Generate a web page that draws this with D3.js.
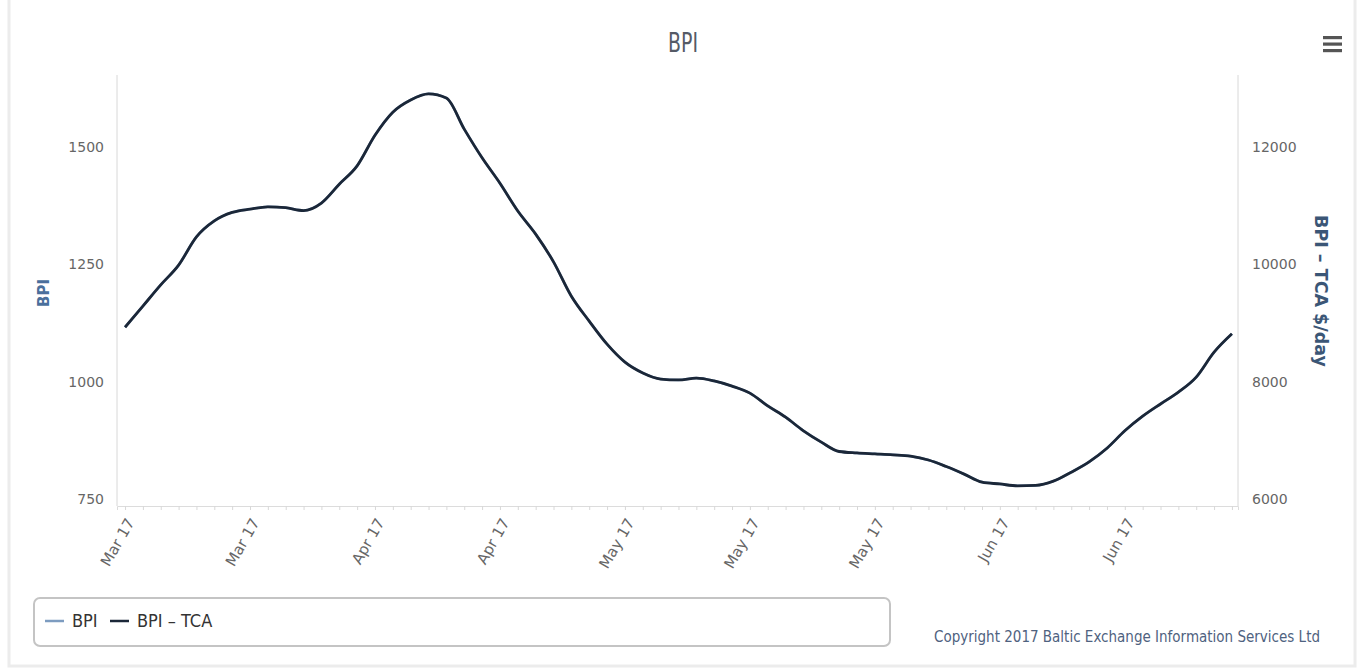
<!DOCTYPE html>
<html>
<head>
<meta charset="utf-8">
<script src="https://cdn.jsdelivr.net/npm/d3@7/dist/d3.min.js"></script>
<style>
  html, body { margin: 0; padding: 0; background: #fff; }
  svg { display: block; font-family: "DejaVu Sans", sans-serif; }
  .cond { font-family: "DejaVu Sans Condensed", "DejaVu Sans", sans-serif; font-stretch: condensed; }
</style>
</head>
<body>
<svg id="chart" width="1359" height="669"></svg>
<script>
// ---- data ----
const dates = [
  "2017-03-22","2017-03-23","2017-03-24","2017-03-27","2017-03-28","2017-03-29","2017-03-30","2017-03-31",
  "2017-04-03","2017-04-04","2017-04-05","2017-04-06","2017-04-07","2017-04-10","2017-04-11","2017-04-12",
  "2017-04-13","2017-04-18","2017-04-19","2017-04-20","2017-04-21","2017-04-24","2017-04-25","2017-04-26",
  "2017-04-27","2017-04-28","2017-05-02","2017-05-03","2017-05-04","2017-05-05","2017-05-08","2017-05-09",
  "2017-05-10","2017-05-11","2017-05-12","2017-05-15","2017-05-16","2017-05-17","2017-05-18","2017-05-19",
  "2017-05-22","2017-05-23","2017-05-24","2017-05-25","2017-05-26","2017-05-30","2017-05-31","2017-06-01",
  "2017-06-02","2017-06-05","2017-06-06","2017-06-07","2017-06-08","2017-06-09","2017-06-12","2017-06-13",
  "2017-06-14","2017-06-15","2017-06-16","2017-06-19","2017-06-20","2017-06-21","2017-06-22"
];
const bpi = [
  1116,1161,1206,1248,1308,1342,1360,1367,1372,1370,1364,1380,1420,1459,1524,1573,
  1599,1612,1603,1537,1476,1422,1363,1314,1255,1182,1129,1080,1042,1019,1006,1004,
  1008,1002,991,976,949,925,896,872,852,849,847,845,842,834,820,804,
  787,783,779,780,789,808,830,859,896,927,953,978,1010,1063,1102
];
const bpiTca = [
  8928,9288,9648,9984,10464,10736,10880,10936,10976,10960,10912,11040,11360,11672,12192,12584,
  12792,12896,12824,12296,11808,11376,10904,10512,10040,9456,9032,8640,8336,8152,8048,8032,
  8064,8016,7928,7808,7592,7400,7168,6976,6816,6792,6776,6760,6736,6672,6560,6432,
  6296,6264,6232,6240,6312,6464,6640,6872,7168,7416,7624,7824,8080,8504,8816
];
const tickLabels = ["Mar 17","Mar 17","Apr 17","Apr 17","May 17","May 17","May 17","Jun 17","Jun 17"];
const tickIndex = [0,7,14,21,28,35,42,49,56];
const leftTicks = [750,1000,1250,1500];
const rightTicks = [6000,8000,10000,12000];

// ---- layout ----
const svg = d3.select("#chart");
const plot = { left: 117, right: 1238, top: 75, bottom: 506 };

const x = d3.scaleLinear().domain([-0.45, dates.length - 1 + 0.34]).range([plot.left, plot.right]);
const yL = d3.scaleLinear().domain([736.2, 1652]).range([plot.bottom, plot.top]);
const yR = d3.scaleLinear().domain([736.2 * 8, 1652 * 8]).range([plot.bottom, plot.top]);

// outer frame
svg.append("rect").attr("x", 9).attr("y", -2).attr("width", 1346).attr("height", 668)
  .attr("fill", "none").attr("stroke", "#ececec").attr("stroke-width", 3);

// title
svg.append("text").attr("class", "cond").attr("x", 668).attr("y", 52)
  .attr("font-size", 27).attr("textLength", 30).attr("lengthAdjust", "spacingAndGlyphs")
  .attr("fill", "#555a66").text("BPI");

// hamburger
[0, 1, 2].forEach(k => {
  svg.append("rect").attr("x", 1323).attr("y", 36 + k * 6.5).attr("width", 19).attr("height", 3.2)
    .attr("fill", "#555");
});

// axis lines
svg.append("line").attr("x1", plot.left).attr("x2", plot.left).attr("y1", plot.top).attr("y2", plot.bottom)
  .attr("stroke", "#d8d8d8").attr("stroke-width", 1);
svg.append("line").attr("x1", plot.right).attr("x2", plot.right).attr("y1", plot.top).attr("y2", plot.bottom)
  .attr("stroke", "#d8d8d8").attr("stroke-width", 1);

// x axis
const xAxis = d3.axisBottom(x)
  .tickValues(d3.range(dates.length))
  .tickSize(4)
  .tickFormat("");
const gx = svg.append("g").attr("transform", `translate(0,${plot.bottom})`).call(xAxis);
gx.select(".domain").attr("stroke", "#dcdcdc");
gx.selectAll(".tick line").attr("stroke", "#d8d8d8");

const xl = svg.append("g");
tickIndex.forEach((idx, k) => {
  const px = x(idx) + 1, py = plot.bottom + 11;
  xl.append("text").attr("transform", `translate(${px},${py}) rotate(-60)`)
    .attr("text-anchor", "end").attr("dy", "0.7em")
    .attr("font-size", 15).attr("fill", "#666").text(tickLabels[k]);
});

// left y axis
const gyl = svg.append("g").attr("transform", `translate(${plot.left},0)`)
  .call(d3.axisLeft(yL).tickValues(leftTicks).tickSize(0).tickPadding(13).tickFormat(d3.format("d")));
gyl.select(".domain").remove();
gyl.attr("font-family", null).attr("font-size", null);
gyl.selectAll("text").attr("font-size", 14).attr("fill", "#666").attr("font-family", "DejaVu Sans");

// right y axis
const gyr = svg.append("g").attr("transform", `translate(${plot.right},0)`)
  .call(d3.axisRight(yR).tickValues(rightTicks).tickSize(0).tickPadding(14).tickFormat(d3.format("d")));
gyr.select(".domain").remove();
gyr.attr("font-family", null).attr("font-size", null);
gyr.selectAll("text").attr("font-size", 14).attr("fill", "#666").attr("font-family", "DejaVu Sans");

// axis titles
svg.append("text").attr("transform", `translate(44,293) rotate(-90)`)
  .attr("text-anchor", "middle").attr("dy", "0.35em").attr("font-size", 15).attr("font-weight", "bold")
  .attr("fill", "#4a6f9c").text("BPI");
svg.append("text").attr("transform", `translate(1321,291) rotate(90)`)
  .attr("text-anchor", "middle").attr("dy", "0.35em").attr("font-size", 17.5).attr("font-weight", "bold")
  .attr("fill", "#3b5676").text("BPI – TCA $/day");

// lines
const lineL = d3.line().x((d, i) => x(i)).y(d => yL(d)).curve(d3.curveMonotoneX);
const lineR = d3.line().x((d, i) => x(i)).y(d => yR(d)).curve(d3.curveMonotoneX);
svg.append("path").datum(bpi).attr("d", lineL).attr("fill", "none")
  .attr("stroke", "#7d9cc0").attr("stroke-width", 2.5);
svg.append("path").datum(bpiTca).attr("d", lineR).attr("fill", "none")
  .attr("stroke", "#1b2738").attr("stroke-width", 2.8).attr("stroke-linejoin", "round");

// legend
svg.append("rect").attr("x", 34).attr("y", 598).attr("width", 856).attr("height", 48).attr("rx", 6)
  .attr("fill", "#fff").attr("stroke", "#c4c4c4").attr("stroke-width", 2);
const legend = [
  { name: "BPI", color: "#7d9cc0", x: 45 },
  { name: "BPI – TCA", color: "#1b2738", x: 110 }
];
legend.forEach(it => {
  svg.append("line").attr("x1", it.x).attr("x2", it.x + 19).attr("y1", 621).attr("y2", 621)
    .attr("stroke", it.color).attr("stroke-width", 2.5);
  svg.append("text").attr("class", "cond").attr("x", it.x + 27).attr("y", 627).attr("font-size", 18)
    .attr("fill", "#333").text(it.name);
});

// credits
svg.append("text").attr("class", "cond").attr("x", 1320).attr("y", 642).attr("text-anchor", "end")
  .attr("font-size", 15).attr("fill", "#4f6280").text("Copyright 2017 Baltic Exchange Information Services Ltd");
</script>
</body>
</html>
